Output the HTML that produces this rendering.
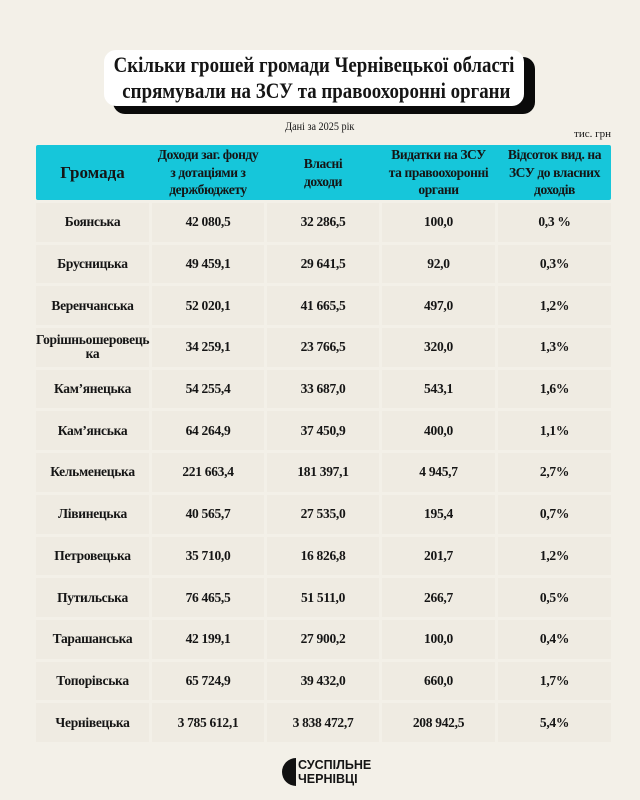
<!DOCTYPE html>
<html><head><meta charset="utf-8"><style>
body{margin:0;width:640px;height:800px;background:#f3f0e8;position:relative;font-family:"Liberation Serif",serif;color:#151515;overflow:hidden}
.shadow{position:absolute;left:113px;top:57px;width:422px;height:57px;background:#0a0a0a;border-radius:12px}
.title{position:absolute;left:104px;top:50px;width:420px;height:56px;background:#fff;border-radius:12px;font-weight:bold;font-size:22.5px;line-height:26px;box-sizing:border-box}
.title div{position:absolute;left:210px;white-space:nowrap;transform:translateX(-50%) scaleX(0.84);transform-origin:center}
.sub{position:absolute;left:0;width:640px;top:119px;text-align:center;font-size:12px}
.sub span{display:inline-block;transform:scaleX(0.85)}
.unit{position:absolute;right:29px;top:128px;font-size:11px}
.hbg{position:absolute;left:36px;top:145px;width:575px;height:55px;background:#16c6da;border-radius:2px}
table{position:absolute;left:33px;top:142px;border-collapse:separate;border-spacing:3px 3px;width:581px;table-layout:fixed}
th{background:transparent;font-weight:bold;font-size:13.5px;line-height:17.5px;height:55px;padding:0;text-align:center;letter-spacing:-0.4px;white-space:nowrap}
th:first-child{font-size:17px;letter-spacing:0}
td{background:#efebe2;height:38.7px;text-align:center;font-weight:bold;font-size:13.5px;padding:0;line-height:14px;letter-spacing:-0.3px}
.logo{position:absolute;left:282px;top:758px;font-family:"Liberation Sans",sans-serif;font-weight:bold;font-size:12.5px;line-height:14px}
.logo .c{position:absolute;left:0;top:0;width:14px;height:28px;background:#111;border-radius:14px 0 0 14px}
.logo .t{position:absolute;left:16px;top:0;white-space:nowrap}
</style></head><body>
<div class="shadow"></div>
<div class="title"><div style="top:2px">Скільки грошей громади Чернівецької області</div><div style="top:28px">&nbsp;спрямували на ЗСУ та правоохоронні органи</div></div>
<div class="sub"><span>Дані за 2025 рік</span></div>
<div class="unit">тис. грн</div>
<div class="hbg"></div>
<table>
<colgroup><col style="width:113px"><col style="width:112px"><col style="width:112px"><col style="width:113px"><col style="width:113px"></colgroup>
<tr><th>Громада</th><th>Доходи заг. фонду<br>з дотаціями з<br>держбюджету</th><th>Власні<br>доходи</th><th>Видатки на ЗСУ<br>та правоохоронні<br>органи</th><th>Відсоток вид. на<br>ЗСУ до власних<br>доходів</th></tr>
<tr><td>Боянська</td><td>42 080,5</td><td>32 286,5</td><td>100,0</td><td>0,3 %</td></tr>
<tr><td>Брусницька</td><td>49 459,1</td><td>29 641,5</td><td>92,0</td><td>0,3%</td></tr>
<tr><td>Веренчанська</td><td>52 020,1</td><td>41 665,5</td><td>497,0</td><td>1,2%</td></tr>
<tr><td>Горішньошеровець<br>ка</td><td>34 259,1</td><td>23 766,5</td><td>320,0</td><td>1,3%</td></tr>
<tr><td>Кам’янецька</td><td>54 255,4</td><td>33 687,0</td><td>543,1</td><td>1,6%</td></tr>
<tr><td>Кам’янська</td><td>64 264,9</td><td>37 450,9</td><td>400,0</td><td>1,1%</td></tr>
<tr><td>Кельменецька</td><td>221 663,4</td><td>181 397,1</td><td>4 945,7</td><td>2,7%</td></tr>
<tr><td>Лівинецька</td><td>40 565,7</td><td>27 535,0</td><td>195,4</td><td>0,7%</td></tr>
<tr><td>Петровецька</td><td>35 710,0</td><td>16 826,8</td><td>201,7</td><td>1,2%</td></tr>
<tr><td>Путильська</td><td>76 465,5</td><td>51 511,0</td><td>266,7</td><td>0,5%</td></tr>
<tr><td>Тарашанська</td><td>42 199,1</td><td>27 900,2</td><td>100,0</td><td>0,4%</td></tr>
<tr><td>Топорівська</td><td>65 724,9</td><td>39 432,0</td><td>660,0</td><td>1,7%</td></tr>
<tr><td>Чернівецька</td><td>3 785 612,1</td><td>3 838 472,7</td><td>208 942,5</td><td>5,4%</td></tr>
</table>
<div class="logo"><div class="c"></div><div class="t">СУСПІЛЬНЕ<br>ЧЕРНІВЦІ</div></div>
</body></html>
